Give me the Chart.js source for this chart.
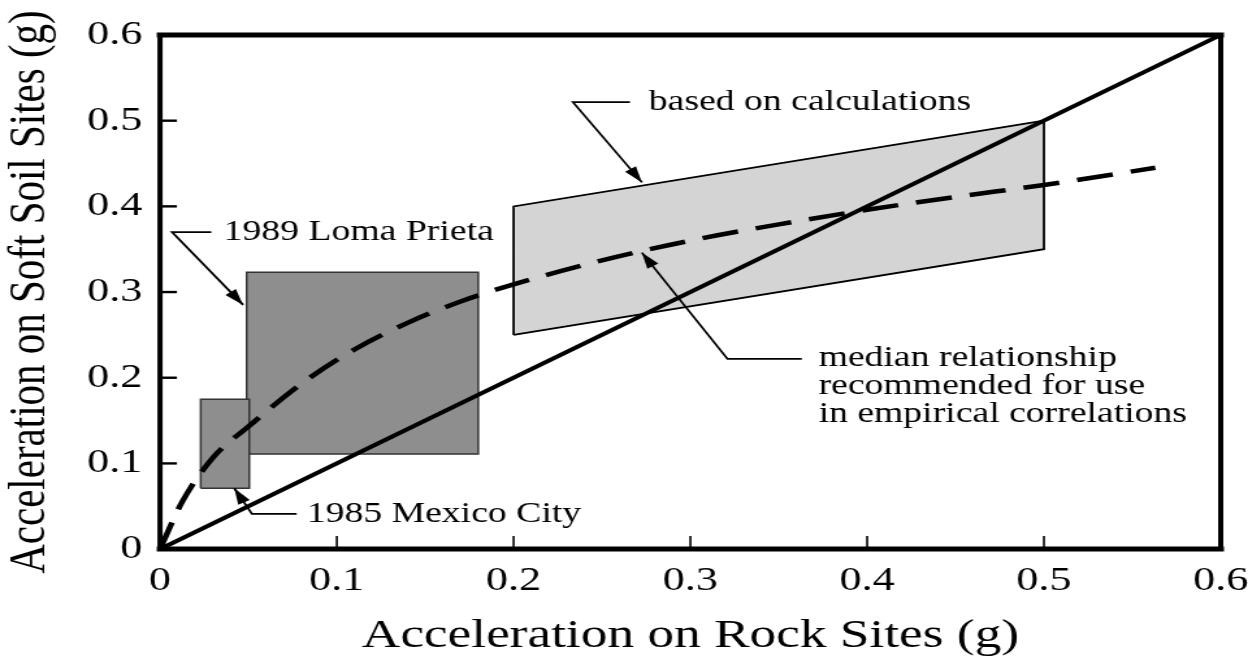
<!DOCTYPE html>
<html>
<head>
<meta charset="utf-8">
<title>Acceleration on Soft Soil vs Rock Sites</title>
<script src="https://cdn.jsdelivr.net/npm/chart.js@4.4.0/dist/chart.umd.min.js"></script>
<style>
  html, body { margin: 0; padding: 0; background: #fff; overflow: hidden; }
  /* the original figure is stretched sideways, so the whole chart is too */
  #wrap { width: 968px; height: 659px; transform: scaleX(1.3); transform-origin: 0 0; }
</style>
</head>
<body>
<div id="wrap"><canvas id="chart" width="968" height="659"></canvas></div>
<script>
// tick values and labels (both axes 0 - 0.6 g)
const tickValues = [0, 0.1, 0.2, 0.3, 0.4, 0.5, 0.6];
const tickLabels = ['0', '0.1', '0.2', '0.3', '0.4', '0.5', '0.6'];

// median relationship (dashed curve)
const medianX = [0, 0.0125, 0.03, 0.05, 0.08, 0.11, 0.14, 0.17, 0.2, 0.25, 0.3, 0.35, 0.4, 0.45, 0.5, 0.563];
const medianY = [0, 0.055, 0.107, 0.143, 0.193, 0.233, 0.264, 0.289, 0.309, 0.337, 0.36, 0.379, 0.396, 0.411, 0.425, 0.445];

// soil = rock line
const equalX = [0, 0.6];
const equalY = [0, 0.6];

// 1989 Loma Prieta box
const lomaX = [0.049, 0.049, 0.18, 0.18, 0.049];
const lomaY = [0.111, 0.323, 0.323, 0.111, 0.111];

// 1985 Mexico City box
const mexicoX = [0.023, 0.023, 0.0505, 0.0505, 0.023];
const mexicoY = [0.071, 0.175, 0.175, 0.071, 0.071];

// band based on calculations
const calcX = [0.2, 0.2, 0.5, 0.5, 0.2];
const calcY = [0.25, 0.4, 0.5, 0.35, 0.25];

const toPoints = (xs, ys) => xs.map((x, i) => ({ x: x, y: ys[i] }));

// labels with leader lines, in data units (last point of path = arrow tip)
const notes = [
  { lines: ['1989 Loma Prieta'], at: [0.036, 0.37],
    path: [[0.029, 0.37], [0.0068, 0.37], [0.047, 0.285]] },
  { lines: ['1985 Mexico City'], at: [0.083, 0.041],
    path: [[0.0773, 0.041], [0.052, 0.041], [0.042, 0.071]] },
  { lines: ['based on calculations'], at: [0.2765, 0.5216],
    path: [[0.2658, 0.5216], [0.2336, 0.5216], [0.2726, 0.428]] },
  { lines: ['median relationship', 'recommended for use', 'in empirical correlations'], at: [0.3725, 0.222],
    path: [[0.363, 0.222], [0.321, 0.222], [0.2726, 0.346]] }
];

const serif = '"Liberation Serif", "Times New Roman", serif';

function arrow(ctx, pts) {
  ctx.beginPath();
  ctx.moveTo(pts[0][0], pts[0][1]);
  for (let i = 1; i < pts.length; i++) ctx.lineTo(pts[i][0], pts[i][1]);
  ctx.stroke();
  const a = pts[pts.length - 2], b = pts[pts.length - 1];
  const ang = Math.atan2(b[1] - a[1], b[0] - a[0]);
  const len = 16, half = 5;
  ctx.beginPath();
  ctx.moveTo(b[0], b[1]);
  ctx.lineTo(b[0] - len * Math.cos(ang) + half * Math.sin(ang), b[1] - len * Math.sin(ang) - half * Math.cos(ang));
  ctx.lineTo(b[0] - len * Math.cos(ang) - half * Math.sin(ang), b[1] - len * Math.sin(ang) + half * Math.cos(ang));
  ctx.closePath();
  ctx.fill();
}

// frame, inward ticks and notes
const decor = {
  id: 'decor',
  afterDatasetsDraw(chart) {
    const ctx = chart.ctx;
    const xs = chart.scales.x, ys = chart.scales.y;
    const a = chart.chartArea;
    ctx.save();
    ctx.strokeStyle = '#000';
    ctx.fillStyle = '#000';

    // inward tick marks
    ctx.lineWidth = 1.6;
    tickValues.slice(1, -1).forEach(v => {
      const px = xs.getPixelForValue(v);
      ctx.beginPath(); ctx.moveTo(px, a.bottom); ctx.lineTo(px, a.bottom - 13); ctx.stroke();
    });
    ctx.lineWidth = 2.4;
    tickValues.slice(1, -1).forEach(v => {
      const py = ys.getPixelForValue(v);
      ctx.beginPath(); ctx.moveTo(a.left, py); ctx.lineTo(a.left + 13, py); ctx.stroke();
    });

    // heavy frame
    ctx.lineCap = 'square';
    ctx.lineWidth = 5;
    ctx.beginPath();
    ctx.moveTo(a.left, a.top); ctx.lineTo(a.right, a.top);
    ctx.moveTo(a.left, a.bottom); ctx.lineTo(a.right, a.bottom);
    ctx.stroke();
    ctx.lineWidth = 4;
    ctx.beginPath();
    ctx.moveTo(a.left, a.top); ctx.lineTo(a.left, a.bottom);
    ctx.moveTo(a.right, a.top); ctx.lineTo(a.right, a.bottom);
    ctx.stroke();

    // leader lines + text
    ctx.lineCap = 'butt';
    ctx.lineWidth = 1.8;
    ctx.font = '29px ' + serif;
    ctx.textAlign = 'left';
    ctx.textBaseline = 'middle';
    notes.forEach(n => {
      arrow(ctx, n.path.map(p => [xs.getPixelForValue(p[0]), ys.getPixelForValue(p[1])]));
      const tx = xs.getPixelForValue(n.at[0]);
      const ty = ys.getPixelForValue(n.at[1]);
      n.lines.forEach((t, i) => ctx.fillText(t, tx, ty + i * 28));
    });
    ctx.restore();
  }
};

const ctx = document.getElementById('chart').getContext('2d');

const cfg = {
  type: 'line',
  data: {
    datasets: [
      {
        label: 'median relationship',
        data: toPoints(medianX, medianY),
        borderColor: '#000',
        borderWidth: 4.5,
        borderDash: [28, 14],
        cubicInterpolationMode: 'monotone',
        pointRadius: 0,
        fill: false,
        order: 0
      },
      {
        label: 'soil = rock',
        data: toPoints(equalX, equalY),
        borderColor: '#000',
        borderWidth: 4,
        pointRadius: 0,
        fill: false,
        order: 1
      },
      {
        label: '1985 Mexico City',
        data: toPoints(mexicoX, mexicoY),
        borderColor: '#333',
        backgroundColor: '#8e8e8e',
        borderWidth: 1.5,
        pointRadius: 0,
        fill: 'shape',
        order: 2
      },
      {
        label: '1989 Loma Prieta',
        data: toPoints(lomaX, lomaY),
        borderColor: '#333',
        backgroundColor: '#8e8e8e',
        borderWidth: 1.5,
        pointRadius: 0,
        fill: 'shape',
        order: 3
      },
      {
        label: 'based on calculations',
        data: toPoints(calcX, calcY),
        borderColor: '#000',
        backgroundColor: '#d4d4d4',
        borderWidth: 1.8,
        pointRadius: 0,
        fill: 'shape',
        order: 4
      }
    ]
  },
  options: {
    responsive: false,
    animation: false,
    layout: { padding: { left: 0, right: 29, top: 35, bottom: 0 } },
    plugins: {
      legend: { display: false },
      tooltip: { enabled: false }
    },
    scales: {
      x: {
        type: 'linear',
        min: 0,
        max: 0.6,
        grid: { display: false, drawTicks: false },
        border: { display: false },
        afterBuildTicks: s => { s.ticks = tickValues.map(v => ({ value: v })); },
        afterFit: s => { s.paddingLeft = 0; s.paddingRight = 0; },
        ticks: {
          color: '#000',
          padding: 12,
          maxRotation: 0,
          font: { family: serif, size: 34 },
          callback: (v, i) => tickLabels[i]
        },
        title: {
          display: true,
          text: 'Acceleration on Rock Sites (g)',
          color: '#000',
          padding: { top: 0, bottom: 0 },
          font: { family: serif, size: 41, lineHeight: 1.1 }
        }
      },
      y: {
        type: 'linear',
        min: 0,
        max: 0.6,
        grid: { display: false, drawTicks: false },
        border: { display: false },
        afterBuildTicks: s => { s.ticks = tickValues.map(v => ({ value: v })); },
        ticks: {
          color: '#000',
          padding: 13.5,
          font: { family: serif, size: 34 },
          callback: (v, i) => tickLabels[i]
        },
        title: {
          display: true,
          text: 'Acceleration on Soft Soil Sites (g)',
          color: '#000',
          padding: { top: 1, bottom: 7.5 },
          font: { family: serif, size: 41, lineHeight: 1.1 }
        }
      }
    }
  },
  plugins: [decor]
};

const chart = new Chart(ctx, cfg);
</script>
</body>
</html>
